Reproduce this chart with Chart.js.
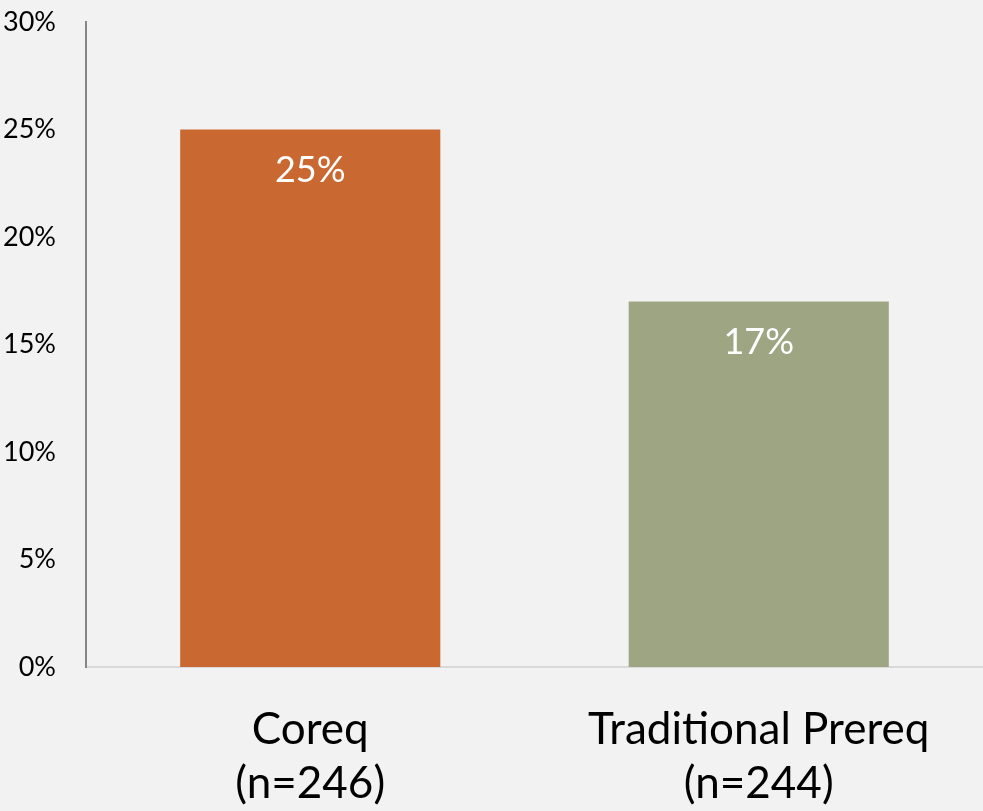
<!DOCTYPE html>
<html>
<head>
<meta charset="utf-8">
<script src="https://cdn.jsdelivr.net/npm/chart.js@4/dist/chart.umd.min.js"></script>
<style>
  html, body { margin: 0; padding: 0; background: #f2f2f2; }
  #wrap { width: 983px; height: 811px; }
</style>
</head>
<body>
<div id="wrap"><canvas id="mainChart" width="983" height="811"></canvas></div>
<script>
// dados do gráfico
const categories = [['Coreq', '(n=246)'], ['Traditional Prereq', '(n=244)']];
const values = [25, 17];
const barColors = ['#c96830', '#9ea583'];
const yTicks = [0, 5, 10, 15, 20, 25, 30];

const fontFamily = "'Lato', 'Open Sans', sans-serif";

// plugin simples para escrever o valor dentro da barra
const valueLabels = {
  id: 'valueLabels',
  afterDatasetsDraw(chart) {
    const ctx = chart.ctx;
    const meta = chart.getDatasetMeta(0);
    ctx.save();
    ctx.fillStyle = '#ffffff';
    ctx.font = '36px ' + fontFamily;
    ctx.textAlign = 'center';
    ctx.textBaseline = 'middle';
    meta.data.forEach((bar, i) => {
      const p = bar.getProps(['x', 'y'], true);
      ctx.fillText(values[i] + '%', p.x, p.y + 41);
    });
    ctx.restore();
  }
};

const ctx = document.getElementById('mainChart').getContext('2d');
new Chart(ctx, {
  type: 'bar',
  data: {
    labels: categories,
    datasets: [{
      data: values,
      backgroundColor: barColors,
      borderWidth: 0,
      categoryPercentage: 1,
      barPercentage: 0.58
    }]
  },
  options: {
    responsive: false,
    animation: false,
    layout: { padding: { top: 22, right: 0, left: 0, bottom: 0 } },
    plugins: {
      legend: { display: false },
      tooltip: { enabled: false }
    },
    scales: {
      x: {
        afterFit(axis) { axis.height = 144; },
        grid: { display: false, drawTicks: false },
        border: { color: '#d9d9d9', width: 2 },
        ticks: {
          color: '#000000',
          font: { family: fontFamily, size: 44, lineHeight: 1.22 },
          padding: 36
        }
      },
      y: {
        min: 0,
        max: 30,
        afterBuildTicks(axis) {
          axis.ticks = yTicks.map(v => ({ value: v }));
        },
        afterFit(axis) {
          axis.width = 86;
          axis.paddingTop = 0;
          axis.paddingBottom = 0;
        },
        grid: { display: false, drawTicks: false },
        border: { color: '#868686', width: 2 },
        ticks: {
          color: '#000000',
          font: { family: fontFamily, size: 27 },
          padding: 30,
          callback: v => v + '%'
        }
      }
    }
  },
  plugins: [valueLabels]
});
</script>
</body>
</html>
